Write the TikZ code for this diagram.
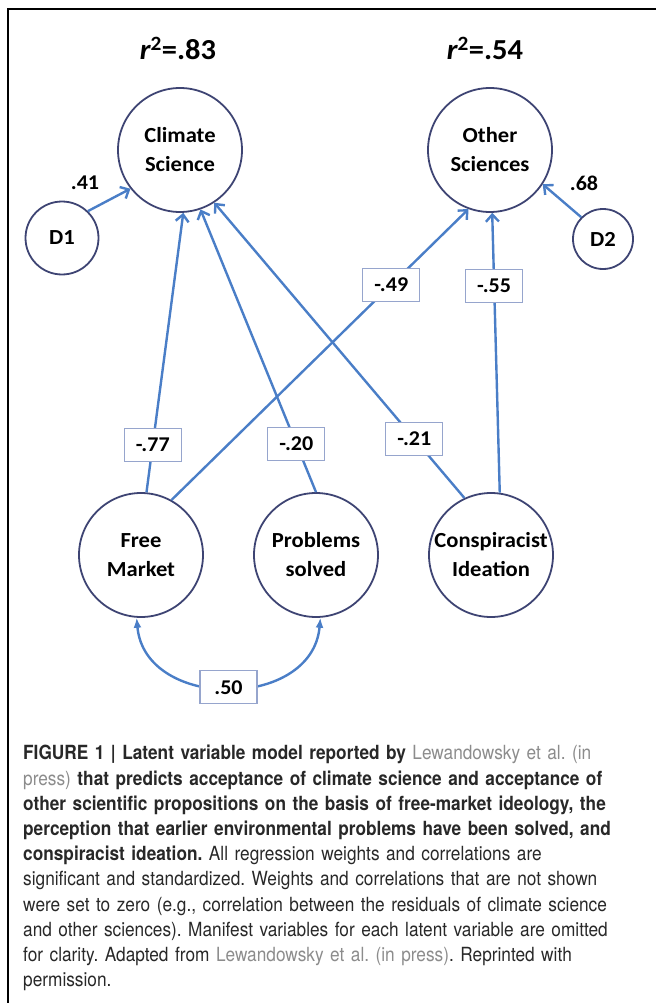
\documentclass[tikz,border=0pt]{standalone}
\usepackage{fontspec}
\usetikzlibrary{arrows.meta}
\setmainfont{Carlito}
\newfontfamily\diagfont[FakeStretch=1.05]{Carlito}
\newfontfamily\capfont[FakeStretch=0.885]{TeX Gyre Heros}
\definecolor{pathblue}{RGB}{74,126,199}
\definecolor{circline}{RGB}{62,68,115}
\definecolor{boxline}{RGB}{150,165,205}
\definecolor{linkgray}{RGB}{140,140,140}
\definecolor{captext}{RGB}{40,40,40}
\frenchspacing

\begin{document}
\begin{tikzpicture}[x=1pt,y=1pt,
   latent/.style={circle,draw=circline,line width=1.8pt,minimum size=124pt,inner sep=0pt,
      align=center,font=\diagfont\fontsize{21.5}{29}\selectfont\bfseries},
   resid/.style={latent,minimum size=66pt},
   weight/.style={draw=boxline,line width=1.2pt,fill=white,minimum width=57pt,minimum height=33pt,
      inner sep=0pt,font=\diagfont\fontsize{21}{25}\selectfont\bfseries},
   path/.style={draw=pathblue,line width=2.4pt,-{Straight Barb[length=7pt,width=13pt]}},
   corr/.style={draw=pathblue,line width=2.4pt,{Latex[length=10pt,width=8pt]}-{Latex[length=10pt,width=8pt]}},
   rsq/.style={font=\diagfont\fontsize{29}{32}\selectfont\bfseries}]

   \useasboundingbox (0,0) rectangle (656,-1003);
   \draw[line width=1.2pt] (656,-9) -- (8,-9) -- (8,-1003);

   \node[rsq] (r1) at (178,-48) {\itshape r\upshape\textsuperscript{2}=.83};
   \node[rsq] (r2) at (485,-48) {\itshape r\upshape\textsuperscript{2}=.54};

   \node[latent] (cs) at (180,-150) {Climate\\Science};
   \node[latent] (os) at (490,-150) {Other\\Sciences};
   \node[resid,minimum size=73pt] (d1) at (62,-238) {D1};
   \node[resid,minimum size=60pt] (d2) at (603,-239) {D2};
   \node[latent] (fm) at (141,-555) {Free\\Market};
   \node[latent] (ps) at (316,-555) {Problems\\solved};
   \node[latent] (ci) at (491,-555) {Conspiracist\\Ideation};

   \node[font=\diagfont\fontsize{21}{25}\selectfont\bfseries] (w41) at (85,-183) {.41};
   \node[font=\diagfont\fontsize{21}{25}\selectfont\bfseries] (w68) at (584,-183) {.68};

   \draw[path] (d1.46) -- (cs.-142);
   \draw[path] (d2.135) -- (os.-33);

   \draw[path] (fm.85) -- node[weight,pos=0.17] (w77) {-.77} (cs.-87);
   \draw[path] (ps.90) -- node[weight,pos=0.17] (w20) {-.20} (cs.-71);
   \draw[path] (ci.115) -- node[weight,pos=0.2] (w21) {-.21} (cs.-57);
   \draw[path] (fm.61) -- node[weight,pos=0.74] (w49) {-.49} (os.-110);
   \draw[path] (ci.82) -- node[weight,pos=0.74] (w55) {-.55} (os.-88);

   \draw[corr] (fm.-94) to[out=-85,in=-95,looseness=1.3] node[weight] (w50) {.50} (ps.-86);

   \node[anchor=north west,inner sep=0pt,text width=640pt,align=left,text=captext,
      font=\capfont\fontsize{19.5}{25.2}\selectfont] (cap) at (23,-742) {%
      \strut\textbf{FIGURE 1 | Latent variable model reported by} \textcolor{linkgray}{Lewandowsky et al. (in}\\
      \textcolor{linkgray}{press)} \textbf{that predicts acceptance of climate science and acceptance of}\\
      \textbf{other scientific propositions on the basis of free-market ideology, the}\\
      \textbf{perception that earlier environmental problems have been solved, and}\\
      \textbf{conspiracist ideation.} All regression weights and correlations are\\
      significant and standardized. Weights and correlations that are not shown\\
      were set to zero (e.g., correlation between the residuals of climate science\\
      and other sciences). Manifest variables for each latent variable are omitted\\
      for clarity. Adapted from \textcolor{linkgray}{Lewandowsky et al. (in press)}. Reprinted with\\
      permission.};

\end{tikzpicture}
\end{document}
